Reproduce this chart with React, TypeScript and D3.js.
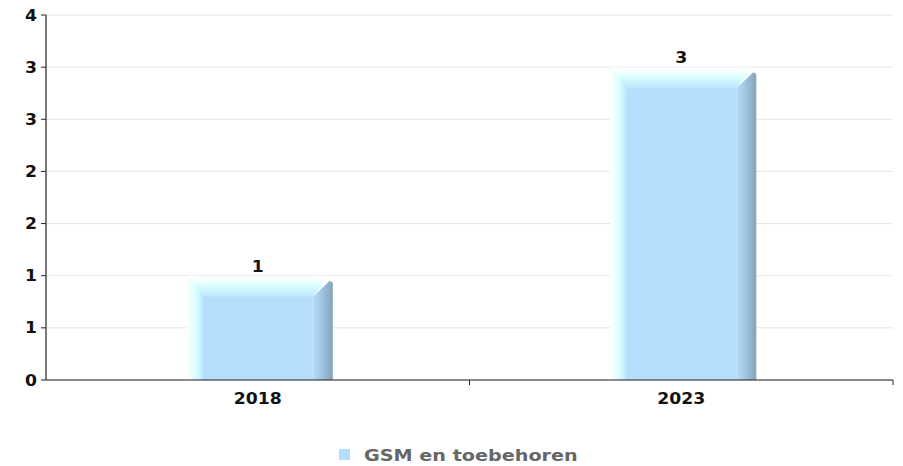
import React from 'react';
import * as d3 from 'd3';

const categories = ['2018', '2023'];
const values = [1, 3];
const seriesName = 'GSM en toebehoren';
const yTicks = [0, 0.5, 1, 1.5, 2, 2.5, 3, 3.5];

const width = 903;
const height = 466;
const margin = { top: 15, right: 10, bottom: 86, left: 46 };

const barColor = '#b4defc';
const font = '"DejaVu Sans", Verdana, sans-serif';
const stretch = 1.15; // labels in the picture are a bit wide

const WideText = ({ x, y, children, anchor = 'middle', size = 15, fill = '#111', sx = stretch }: any) => (
  <text
    transform={`translate(${x},${y}) scale(${sx},1)`}
    textAnchor={anchor}
    fontFamily={font}
    fontWeight="bold"
    fontSize={size}
    fill={fill}
  >
    {children}
  </text>
);

const App = () => {
  const x0 = margin.left;
  const x1 = width - margin.right;
  const y0 = height - margin.bottom;

  const x = d3.scaleBand().domain(categories).range([x0, x1]).padding(0);
  const y = d3.scaleLinear().domain([0, 3.5]).range([y0, margin.top]);

  const bw = x.bandwidth();
  const barW = bw * 0.345;
  const depth = 20; // 3d bevel size

  return (
    <svg width={width} height={height} style={{ position: 'absolute', left: 0, top: 0 }}>
      <defs>
        <linearGradient id="gLeft" x1="0" x2="1" y1="0" y2="0">
          <stop offset="0" stopColor="#ffffff" />
          <stop offset="0.04" stopColor="#eaffff" />
          <stop offset="0.09" stopColor="#d2fbff" />
          <stop offset="0.14" stopColor={barColor} />
          <stop offset="1" stopColor={barColor} />
        </linearGradient>
        <linearGradient id="gRight" x1="0" x2="1" y1="0" y2="0">
          <stop offset="0" stopColor={barColor} />
          <stop offset="0.35" stopColor="#a6cbe6" />
          <stop offset="1" stopColor="#84a3bc" />
        </linearGradient>
        <linearGradient id="gTop" x1="0" x2="0" y1="0" y2="1">
          <stop offset="0" stopColor="#ffffff" />
          <stop offset="0.22" stopColor="#f6ffff" />
          <stop offset="0.5" stopColor="#d6ffff" />
          <stop offset="1" stopColor="#bde5fd" />
        </linearGradient>
      </defs>

      {/* grid */}
      {yTicks.map((t) => (
        <line key={'g' + t} x1={x0} x2={x1} y1={y(t)} y2={y(t)} stroke="#e6e6e6" strokeWidth={1} />
      ))}

      {/* bars */}
      {categories.map((c, i) => {
        const cx = (x(c) as number) + bw / 2 + 2;
        const l = cx - barW / 2;
        const r = cx + barW / 2;
        const top = y(values[i]);
        return (
          <g key={c}>
            <rect x={l} y={top} width={r - depth - l} height={y0 - top} fill="url(#gLeft)" />
            <polygon
              points={`${r - depth},${top + depth + 1} ${r - 3},${top + 5} ${r},${top + 7} ${r},${y0} ${r - depth},${y0}`}
              fill="url(#gRight)"
            />
            <polygon
              points={`${l},${top} ${r - 4},${top} ${r - depth},${top + depth + 1} ${l + 16},${top + depth + 1}`}
              fill="url(#gTop)"
            />
            <WideText x={x(c)! + bw / 2} y={top - 4}>
              {values[i]}
            </WideText>
          </g>
        );
      })}

      {/* y axis */}
      <line x1={x0} x2={x0} y1={margin.top} y2={y0} stroke="#222" strokeWidth={1.2} />
      {yTicks.map((t) => (
        <g key={'y' + t}>
          <line x1={x0 - 5} x2={x0} y1={y(t)} y2={y(t)} stroke="#222" />
          <WideText x={x0 - 9} y={y(t) + 5.5} anchor="end">
            {d3.format('.0f')(Math.round(t + 1e-9))}
          </WideText>
        </g>
      ))}

      {/* x axis */}
      <line x1={x0} x2={x1} y1={y0} y2={y0} stroke="#222" strokeWidth={1.2} />
      {categories.map((c) => (
        <g key={'x' + c}>
          <line x1={x(c)! + bw} x2={x(c)! + bw} y1={y0} y2={y0 + 5} stroke="#222" />
          <WideText x={x(c)! + bw / 2} y={y0 + 24}>
            {c}
          </WideText>
        </g>
      ))}

      {/* legend */}
      <rect x={339} y={449} width={11} height={11} fill={barColor} />
      <WideText x={364} y={461} anchor="start" size={16} fill="#666" sx={1.2}>
        {seriesName}
      </WideText>
    </svg>
  );
};

export default App;
